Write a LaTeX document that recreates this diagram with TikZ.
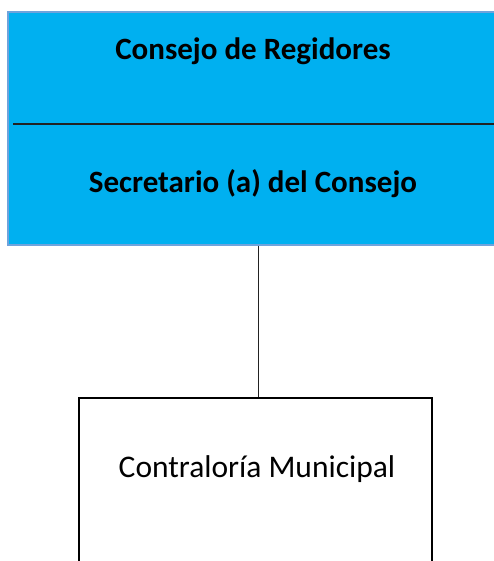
\documentclass[tikz,border=0pt]{standalone}
\usepackage{fontspec}
\setmainfont{Carlito}
\definecolor{boxblue}{HTML}{00B0F0}
\definecolor{edgeblue}{HTML}{6FA3DC}
\definecolor{lineblk}{HTML}{222222}
\begin{document}
\begin{tikzpicture}[x=1pt,y=-1pt,
  bluebox/.style={draw=edgeblue,line width=1.6pt,fill=boxblue,rectangle,inner sep=0pt},
  whitebox/.style={draw=black,line width=2pt,fill=white,rectangle,inner sep=0pt},
  head/.style={font=\bfseries\fontsize{31}{36}\selectfont,text=black},
  plain/.style={font=\fontsize{31.5}{36}\selectfont,text=black}]
\useasboundingbox (0,0) rectangle (494,561);
\clip (0,0) rectangle (494,561);
\node[bluebox,minimum width=494pt,minimum height=233pt] (top) at (255,128.5) {};
\draw[lineblk,line width=1.3pt] (13,124) -- (500,124);
\node[head] (t1) at (253,51) {Consejo de Regidores};
\node[head] (t2) at (253,184) {Secretario (a) del Consejo};
\node[whitebox,minimum width=353pt,minimum height=260pt] (box) at (255.5,528) {};
\node[plain] (t3) at (257,469) {Contraloría Municipal};
\draw[lineblk,line width=1pt] ([xshift=2.5pt]top.south -| box.north) -- ([xshift=2.5pt]box.north);
\end{tikzpicture}
\end{document}
